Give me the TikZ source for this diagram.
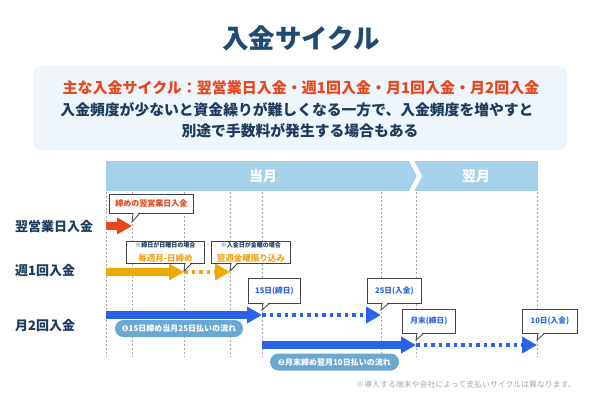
\documentclass[tikz,border=0pt]{standalone}
\usepackage{fontspec}
\setmainfont{Noto Sans CJK JP}
\newfontfamily\dejavu{DejaVu Sans}
\usetikzlibrary{arrows.meta}
\definecolor{navy}{HTML}{1F4B73}
\definecolor{txtnavy}{HTML}{1E3A5C}
\definecolor{infobg}{HTML}{EEF6FC}
\definecolor{redor}{HTML}{E8461C}
\definecolor{gold}{HTML}{F0A900}
\definecolor{goldtxt}{HTML}{F3A21E}
\definecolor{blu}{HTML}{2963EA}
\definecolor{blutxt}{HTML}{2D66E2}
\definecolor{band}{HTML}{A5D2EA}
\definecolor{pillc}{HTML}{6AA8D1}
\definecolor{vgrey}{HTML}{B8A0B2}
\definecolor{boxgrey}{HTML}{444444}
\definecolor{foot}{HTML}{A8A8A8}
\newcommand\fs[1]{\fontsize{#1}{#1}\selectfont}
\newcommand\ptr[4]{%
  \fill[white] ({#1+0.7},{#2-0.9}) -- (#3,#4) -- ({#1+6.3},{#2-0.9}) -- cycle;
  \draw[cline] (#1,#2) -- (#3,#4) -- ({#1+7},#2);}
\tikzset{
  lbl/.style={font=\fs{13}\bfseries, text=txtnavy, anchor=west, inner sep=0},
  vline/.style={draw=vgrey, line width=0.7pt, dash pattern=on 2pt off 2pt},
  cline/.style={draw=boxgrey, line width=0.8pt, line join=miter},
  cbox/.style={cline, fill=white, inner sep=0, anchor=north west, align=center},
  pill/.style={fill=pillc, rounded corners=8.5pt, text=white, font=\fs{8}\bfseries, minimum height=17pt, inner sep=0},
  bararrow/.style={line width=8pt, -{Triangle[length=15pt 0 0, width=16pt 0 0]}},
  dotarrow/.style={line width=4pt, dash pattern=on 3.5pt off 4pt, -{Triangle[length=15pt 0 0, width=16pt 0 0]}},
  mon/.style={text=white, font=\fs{14}\bfseries, inner sep=0},
}
\begin{document}
\begin{tikzpicture}[x=1pt,y=-1pt]
\useasboundingbox (0,0) rectangle (600,400);
\fill[white] (0,0) rectangle (600,400);
% title
\node[text=navy, font=\fs{26.5}\bfseries, inner sep=0] (title) at (301,38) {入金サイクル};
% info box
\fill[infobg, rounded corners=8pt] (33,66) rectangle (567,150);
\node[text=redor, font=\fs{15}\bfseries, inner sep=0] (info1) at (301,88) {主な入金サイクル：翌営業日入金・週1回入金・月1回入金・月2回入金};
\node[text=txtnavy, font=\fs{14.8}\bfseries, inner sep=0] (info2) at (297,110) {入金頻度が少ないと資金繰りが難しくなる一方で、入金頻度を増やすと};
\node[text=txtnavy, font=\fs{14.8}\bfseries, inner sep=0] (info3) at (300,131) {別途で手数料が発生する場合もある};
% header band
\fill[band] (106,161) rectangle (538,191);
\draw[white, line width=4.5pt, line join=miter] (410,158) -- (419.5,176) -- (410,194);
\node[mon] (cur) at (263,176) {当月};
\node[mon] (nxt) at (476,176) {翌月};
% vertical guides
\foreach \x in {106,132,184,230,262,381,416,537}
  \draw[vline] (\x,192) -- (\x,357);
% row labels
\node[lbl] (l1) at (15,227) {翌営業日入金};
\node[lbl] (l2) at (15,271) {週1回入金};
\node[lbl] (l3) at (15,326) {月2回入金};
% arrows
\coordinate (a0) at (106,226);
\coordinate (a1) at (132,226);
\draw[bararrow, redor] (a0) -- (a1);
\coordinate (b0) at (106,272);
\coordinate (b1) at (184,272);
\coordinate (b2) at (230,272);
\draw[bararrow, gold] (b0) -- (b1);
\draw[dotarrow, gold] (b1) -- (b2);
\coordinate (c0) at (106,315);
\coordinate (c1) at (262,315);
\coordinate (c2) at (381,315);
\draw[bararrow, blu] (c0) -- (c1);
\draw[dotarrow, blu] (c1) -- (c2);
\coordinate (d0) at (262,345);
\coordinate (d1) at (416,345);
\coordinate (d2) at (537,345);
\draw[bararrow, blu] (d0) -- (d1);
\draw[dotarrow, blu] (d1) -- (d2);
% callouts
\node[cbox, minimum width=84pt, minimum height=19pt, text=redor, font=\fs{8}\bfseries] (k1) at (109,194) {締めの翌営業日入金};
\ptr{133}{213}{132}{222}
\node[cbox, minimum width=78pt, minimum height=22pt] (k2) at (126,241) {{\fs{6}\bfseries\color{txtnavy}※締日が日曜日の場合}\\[1.5pt]{\fs{8.5}\bfseries\color{goldtxt}毎週月-日締め}};
\ptr{185}{263}{184}{271}
\node[cbox, minimum width=79pt, minimum height=22pt] (k3) at (211,241) {{\fs{6}\bfseries\color{txtnavy}※入金日が金曜の場合}\\[1.5pt]{\fs{8.5}\bfseries\color{goldtxt}翌週金曜振り込み}};
\ptr{231}{263}{230}{271}
\node[cbox, minimum width=52pt, minimum height=25pt, text=blutxt, font=\fs{7.7}\bfseries] (k4) at (248,278) {15日(締日)};
\ptr{263}{303}{262}{310}
\node[cbox, minimum width=54pt, minimum height=25pt, text=blutxt, font=\fs{7.7}\bfseries] (k5) at (367,278) {25日(入金)};
\ptr{382}{303}{381}{310}
\node[cbox, minimum width=53pt, minimum height=24pt, text=blutxt, font=\fs{7.7}\bfseries] (k6) at (402,309) {月末(締日)};
\ptr{417}{333}{416}{340}
\node[cbox, minimum width=55pt, minimum height=24pt, text=blutxt, font=\fs{7.7}\bfseries] (k7) at (522,309) {10日(入金)};
\ptr{538}{333}{537}{340}
% pills
\node[pill, minimum width=128pt] (p1) at (179,328.5) {{\dejavu ❶}15日締め当月25日払いの流れ};
\node[pill, minimum width=129pt] (p2) at (334.5,362) {{\dejavu ❷}月末締め翌月10日払いの流れ};
% footnote
\node[text=foot, font=\fs{7.9}, anchor=east, inner sep=0] (fn) at (576,384) {※導入する端末や会社によって支払いサイクルは異なります。};
\end{tikzpicture}
\end{document}
